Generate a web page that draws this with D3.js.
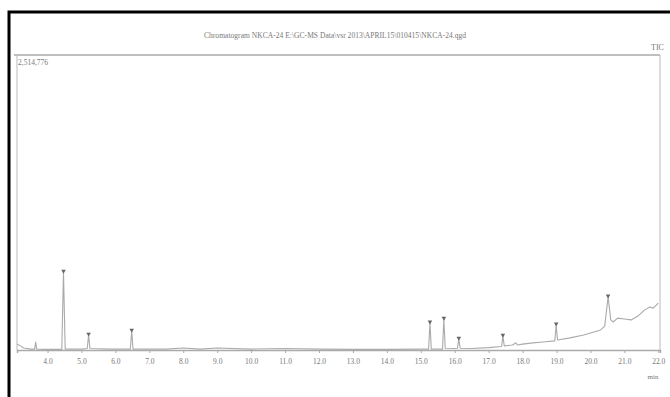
<!DOCTYPE html>
<html>
<head>
<meta charset="utf-8">
<script src="https://cdn.jsdelivr.net/npm/d3@7"></script>
<style>
  body { margin: 0; background: #fff; }
  text { font-family: "Liberation Serif", "DejaVu Serif", serif; fill: #777; }
</style>
</head>
<body>
<div id="container"></div>
<script>
// retention time (min) and relative intensity (% of full scale)
let times = [3.1, 3.2, 3.3, 3.5, 3.62, 3.65, 3.68, 4.0, 4.42, 4.47, 4.52, 5.0, 5.17, 5.21, 5.25, 5.8,
  6.44, 6.48, 6.52, 7.5, 8.0, 8.5, 9.0, 10.0, 11.0, 12.0, 13.0, 14.0, 15.0, 15.23, 15.27, 15.31,
  15.64, 15.68, 15.72, 16.0, 16.08, 16.12, 16.16, 16.5, 17.0, 17.38, 17.42, 17.46, 17.7, 17.8, 17.85,
  18.0, 18.3, 18.6, 18.95, 18.99, 19.03, 19.4, 19.8, 20.1, 20.3, 20.42, 20.52, 20.6, 20.67, 20.8,
  21.0, 21.2, 21.4, 21.6, 21.75, 21.85, 22.0];
let intensity = [2.0, 1.4, 0.7, 0.3, 0.3, 2.7, 0.3, 0.2, 0.2, 26.4, 0.3, 0.3, 0.5, 5.1, 0.5, 0.3,
  0.3, 6.4, 0.3, 0.3, 0.7, 0.3, 0.7, 0.3, 0.5, 0.3, 0.2, 0.2, 0.3, 0.3, 9.2, 0.3,
  0.3, 10.5, 0.6, 0.5, 0.6, 3.7, 0.6, 0.5, 0.8, 1.2, 4.7, 1.4, 1.7, 2.4, 1.7,
  2.0, 2.4, 2.7, 3.1, 8.5, 3.4, 4.1, 5.1, 6.1, 6.8, 8.1, 18.0, 10.2, 9.5, 10.8,
  10.5, 10.2, 11.5, 13.6, 14.6, 14.2, 15.9];
let peakTimes = [4.47, 5.21, 6.48, 15.27, 15.68, 16.12, 17.42, 18.99, 20.52];
let tickValues = [4, 5, 6, 7, 8, 9, 10, 11, 12, 13, 14, 15, 16, 17, 18, 19, 20, 21, 22];
let title = 'Chromatogram NKCA-24 E:\\GC-MS Data\\vsr 2013\\APRIL15\\010415\\NKCA-24.qgd';
let maxLabel = '2,514,776';

let width = 670, height = 397;
let plotLeft = 17, plotRight = 660, plotTop = 55, plotBottom = 350;

let svg = d3.select('#container').append('svg')
    .attr('width', width).attr('height', height);

// black frame of the scanned page
svg.append('path')
    .attr('d', 'M9,397 L9,12 L670,12')
    .attr('fill', 'none').attr('stroke', '#000').attr('stroke-width', 3);

let x = d3.scaleLinear().domain([3.1, 22.05]).range([plotLeft, plotRight]);
let y = d3.scaleLinear().domain([0, 100]).range([plotBottom, plotTop]);

// plot box
svg.append('line').attr('x1', 14).attr('x2', plotRight).attr('y1', plotTop).attr('y2', plotTop)
    .attr('stroke', '#aaa').attr('stroke-width', 1.5);
svg.append('line').attr('x1', plotLeft).attr('x2', plotLeft).attr('y1', plotTop).attr('y2', plotBottom)
    .attr('stroke', '#bbb');
svg.append('line').attr('x1', plotRight).attr('x2', plotRight).attr('y1', plotTop).attr('y2', plotBottom)
    .attr('stroke', '#bbb');

svg.append('text').attr('x', 335).attr('y', 38).attr('text-anchor', 'middle')
    .attr('font-size', 7.5).attr('textLength', 262).text(title);
svg.append('text').attr('x', 651).attr('y', 50).attr('font-size', 8).text('TIC');
svg.append('text').attr('x', 18).attr('y', 65).attr('font-size', 7.5).text(maxLabel);

let xAxis = d3.axisBottom(x).tickValues(tickValues).tickSize(3)
    .tickFormat(d3.format('.1f'));
let gx = svg.append('g').attr('transform', 'translate(0,' + plotBottom + ')').call(xAxis);
gx.select('.domain').attr('stroke', '#aaa').attr('stroke-width', 1.5);
gx.selectAll('.tick line').attr('stroke', '#aaa');
gx.selectAll('.tick text').attr('font-size', 7.5).attr('fill', '#777')
    .attr('font-family', '"Liberation Serif", serif').attr('dy', '1.1em');
svg.append('text').attr('x', 653).attr('y', 379).attr('font-size', 7)
    .attr('text-anchor', 'middle').text('min');

let data = times.map((t, i) => [t, intensity[i]]);
let line = d3.line().x(d => x(d[0])).y(d => y(d[1]));
svg.append('path').datum(data)
    .attr('fill', 'none').attr('stroke', '#aaa').attr('stroke-width', 1.1)
    .attr('stroke-linejoin', 'round').attr('d', line);

// peak markers
let peaks = peakTimes.map(t => [t, intensity[times.indexOf(t)]]);
svg.selectAll('.peak').data(peaks).enter().append('path')
    .attr('class', 'peak')
    .attr('d', d3.symbol().type(d3.symbolTriangle).size(9))
    .attr('transform', d => 'translate(' + x(d[0]) + ',' + (y(d[1]) - 1) + ') rotate(180)')
    .attr('fill', '#666');
</script>
</body>
</html>
